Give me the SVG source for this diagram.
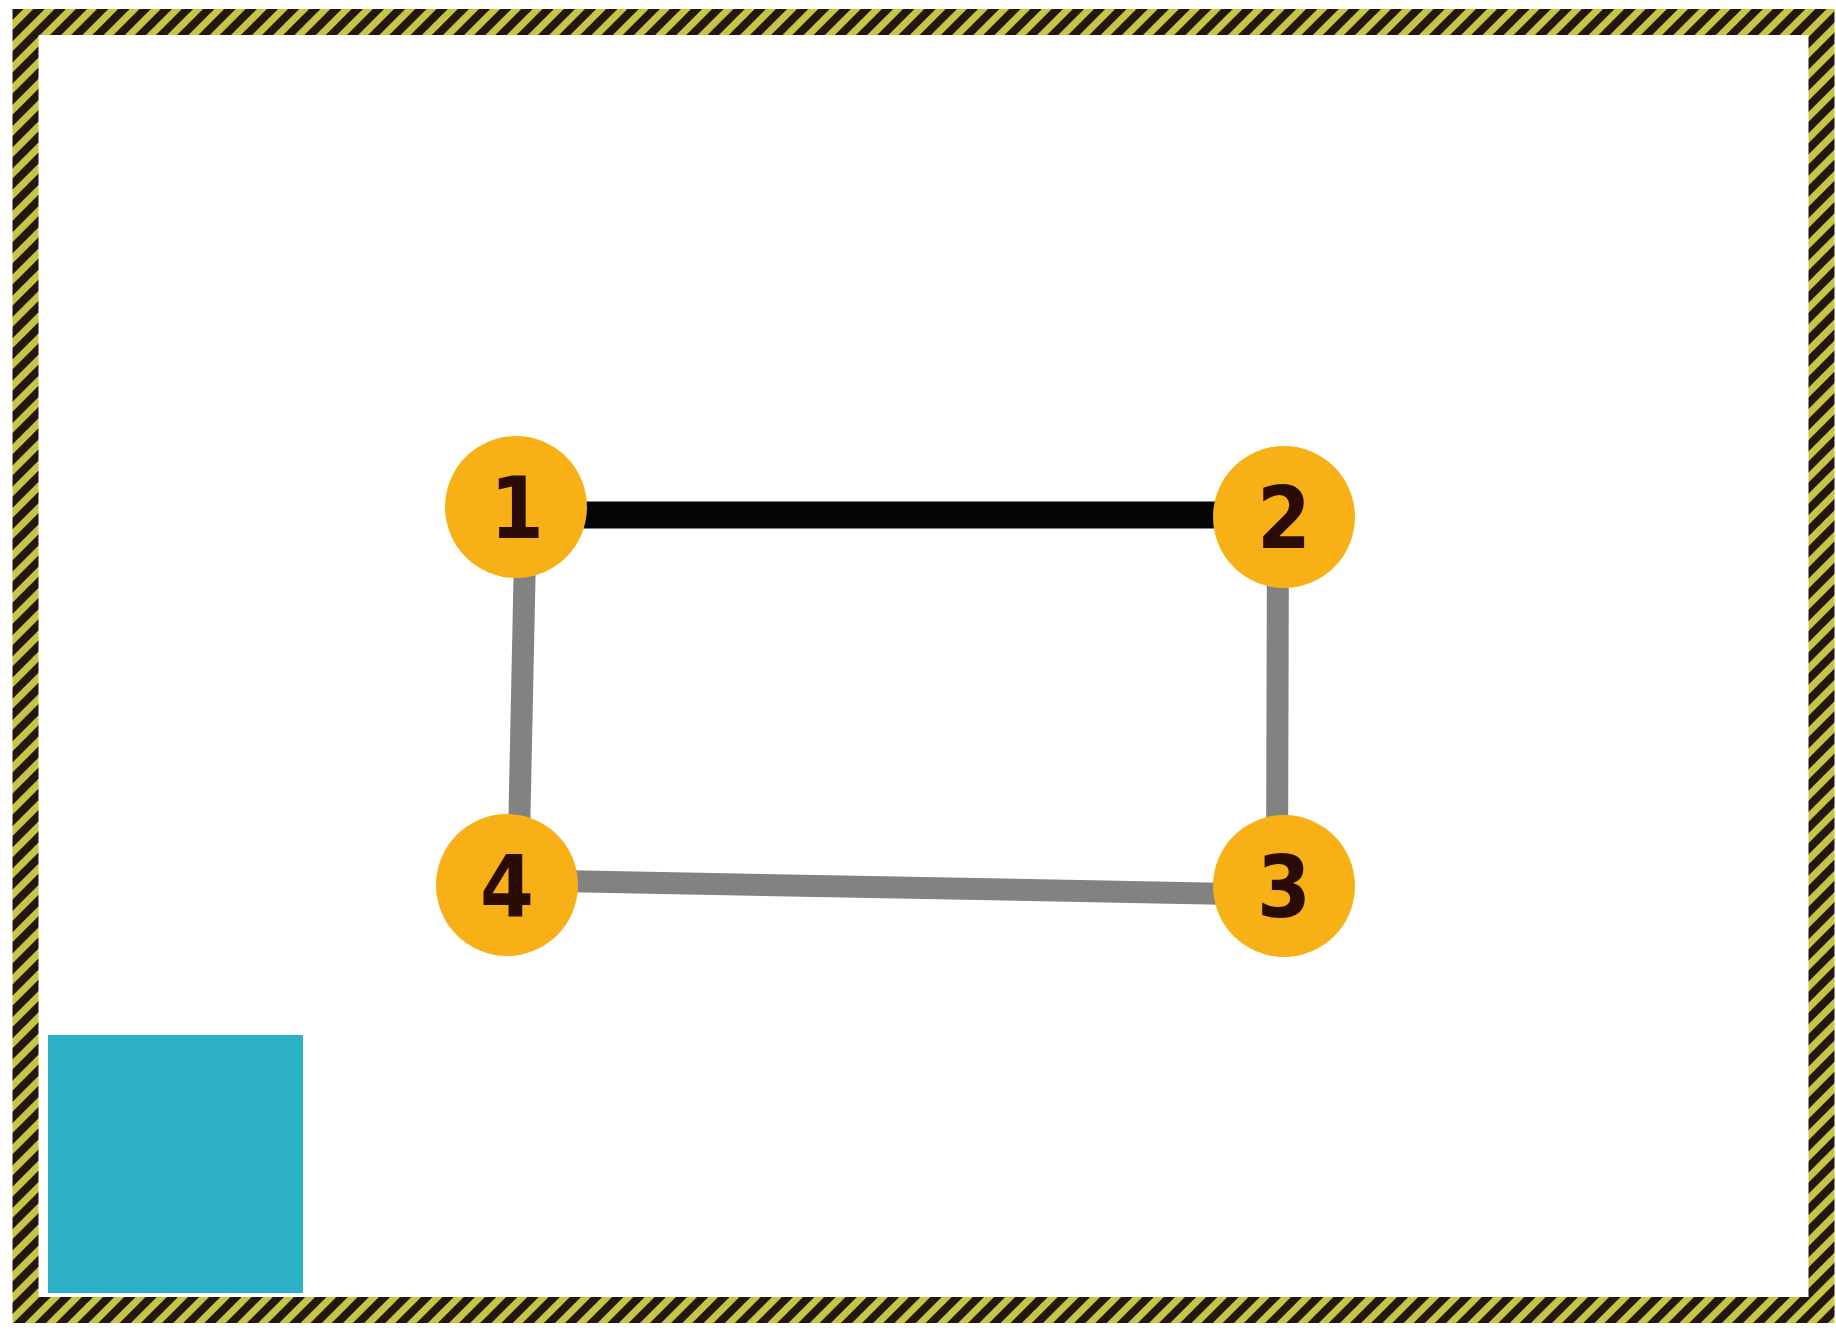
<svg xmlns="http://www.w3.org/2000/svg" width="1836" height="1335" viewBox="0 0 1836 1335">
  <defs>
    <pattern id="hazard" patternUnits="userSpaceOnUse" width="15" height="15" patternTransform="rotate(45)">
      <rect x="0" y="0" width="15" height="15" fill="#c8c446"/>
      <rect x="0" y="0" width="8" height="15" fill="#22180f"/>
    </pattern>
  </defs>
  <style>
    .node circle { fill: #f7b117; }
    .node text { font-family: "DejaVu Sans Condensed", "DejaVu Sans", sans-serif; font-stretch: condensed; font-weight: bold; font-size: 86px; fill: #2a0c04; text-anchor: middle; }
    .edge { fill: none; stroke-linecap: butt; }
    .gray { stroke: #828282; stroke-width: 22; }
    .black { stroke: #050505; stroke-width: 27; }
  </style>
  <rect x="0" y="0" width="1836" height="1335" fill="#ffffff"/>
  <g id="frame">
    <rect x="25.5" y="22" width="1796" height="1288" fill="none" stroke="url(#hazard)" stroke-width="26"/>
  </g>
  <g id="block">
    <rect x="48" y="1035" width="255" height="258" fill="#2bb0c5"/>
  </g>
  <g id="connectors">
    <line class="edge black" x1="516" y1="515" x2="1284" y2="515"/>
    <line class="edge gray" x1="1278" y1="517" x2="1277" y2="886"/>
    <line class="edge gray" x1="526" y1="507" x2="518" y2="885"/>
    <line class="edge gray" x1="507" y1="880" x2="1284" y2="895"/>
  </g>
  <g id="node1" class="node">
    <circle cx="516" cy="507" r="71"/>
    <text x="517" y="538">1</text>
  </g>
  <g id="node2" class="node">
    <circle cx="1284" cy="517" r="71"/>
    <text x="1284" y="548">2</text>
  </g>
  <g id="node3" class="node">
    <circle cx="1284" cy="886" r="71"/>
    <text x="1284" y="917">3</text>
  </g>
  <g id="node4" class="node">
    <circle cx="507" cy="885" r="71"/>
    <text x="507" y="916">4</text>
  </g>
</svg>
